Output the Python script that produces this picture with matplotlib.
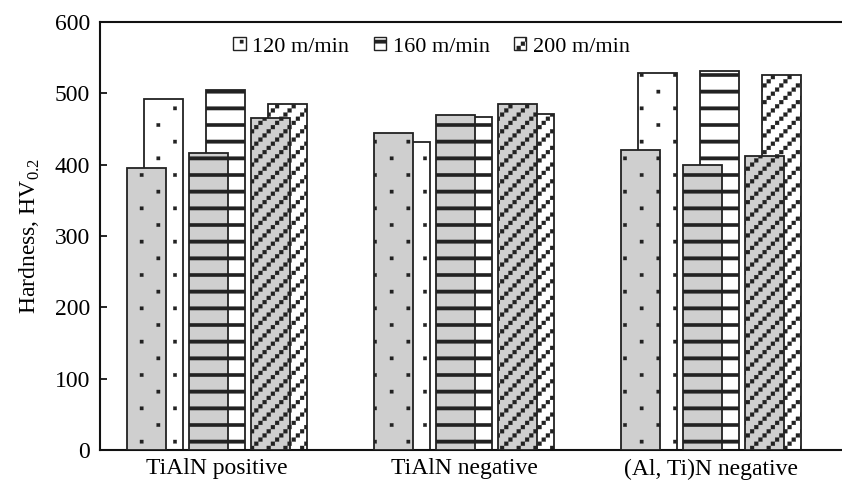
import numpy as np
import matplotlib
matplotlib.use("Agg")
import matplotlib.pyplot as plt
import matplotlib.patches as mpatches
import matplotlib.hatch as mhatch
from matplotlib.path import Path

# dane
groups = ["TiAlN positive", "TiAlN negative", "(Al, Ti)N negative"]
speeds = ["120 m/min", "160 m/min", "200 m/min"]
hardness_grey = [
    [395, 416, 465],
    [445, 469, 485],
    [421, 400, 412],
]
hardness_white = [
    [492, 505, 485],
    [432, 467, 471],
    [529, 532, 526],
]
yticks = [0, 100, 200, 300, 400, 500, 600]

hatches = [".", "-", "/"]
GREY = "#cfcfcf"
EDGE = "#222222"

plt.rcParams["font.family"] = "Liberation Serif"
plt.rcParams["mathtext.fontset"] = "custom"
plt.rcParams["mathtext.rm"] = "Liberation Serif"
plt.rcParams["hatch.color"] = "black"
plt.rcParams["hatch.linewidth"] = 0.2

"""
Wzory kreskowania jak w oryginale: rzadkie kropki, grube poziome pasy
i ukośne schodki z kwadracików. Komórka wzoru ma 72 pt (= dpi pikseli).
"""
BOX_CODES = [Path.MOVETO, Path.LINETO, Path.LINETO, Path.LINETO, Path.CLOSEPOLY]


def make_hatch(char, centres, w, h):
    box = np.array([[-w, -h], [w, -h], [w, h], [-w, h], [-w, -h]]) / 2
    centres = np.asarray(centres, dtype=float)

    class _Hatch(mhatch.HatchPatternBase):
        def __init__(self, hatch, density):
            self.n = len(centres) if char in hatch else 0
            self.num_vertices = 5 * self.n

        def set_vertices_and_codes(self, vertices, codes):
            vertices[:] = (box[None, :, :] + centres[:, None, :]).reshape(-1, 2)
            codes[:] = np.tile(BOX_CODES, self.n)

    return _Hatch


dot_centres = []
for j in range(6):
    xs = [0.25, 7 / 12, 11 / 12] if j % 2 == 0 else [1 / 12, 5 / 12, 0.75]
    dot_centres += [(x, 1 / 12 + j / 6) for x in xs]
band_centres = [(0.5, 1 / 12 + j / 6) for j in range(6)]
diag_centres = [((a + 0.5) / 24, (b + 0.5) / 24)
                for a in range(24) for b in range(24) if (b - a) % 4 == 0]

mhatch._hatch_types = [
    make_hatch(".", dot_centres, 0.034, 0.034),
    make_hatch("-", band_centres, 1.04, 0.035),
    make_hatch("/", diag_centres, 0.039, 0.039),
]

fig = plt.figure(figsize=(8.42, 4.87), dpi=100)
ax = fig.add_axes([100 / 842, 37 / 487, 742 / 842, 428 / 487])

step = 247.0  # px pomiędzy grupami
bar_w = 39 / step
shift = 16.5 / step
x = np.arange(len(groups))

for k in range(len(speeds)):
    left = x + (-90 + 62 * k) / step
    white = [row[k] for row in hardness_white]
    grey = [row[k] for row in hardness_grey]
    ax.bar(left + shift, white, width=bar_w, align="edge", color="white",
           edgecolor=EDGE, linewidth=1.3, hatch=hatches[k], zorder=2)
    ax.bar(left, grey, width=bar_w, align="edge", color=GREY,
           edgecolor=EDGE, linewidth=1.3, hatch=hatches[k], zorder=3)

ax.set_xlim(-117 / step, -117 / step + 742 / step)
ax.set_ylim(0, 600)
ax.set_yticks(yticks)
ax.set_xticks(x)
ax.set_xticklabels(groups)
ax.tick_params(axis="x", length=0, pad=6, labelsize=17)
ax.tick_params(axis="y", direction="in", length=5, width=1.2, pad=7, labelsize=17)
ax.set_ylabel("Hardness, HV$_{0.2}$", fontsize=17, labelpad=9)

ax.spines["right"].set_visible(False)
for s in ["left", "top", "bottom"]:
    ax.spines[s].set_linewidth(1.5)
    ax.spines[s].set_color("#111111")

handles = [mpatches.Patch(facecolor="white", edgecolor=EDGE, linewidth=1.0, hatch=h)
           for h in hatches]
ax.legend(handles, speeds, loc="center", bbox_to_anchor=(0.447, 0.942), ncol=3,
          frameon=False, fontsize=16, handlelength=0.55, handleheight=0.55,
          handletextpad=0.3, columnspacing=1.1, borderaxespad=0)

plt.savefig("out.png", dpi=100)
plt.close()
